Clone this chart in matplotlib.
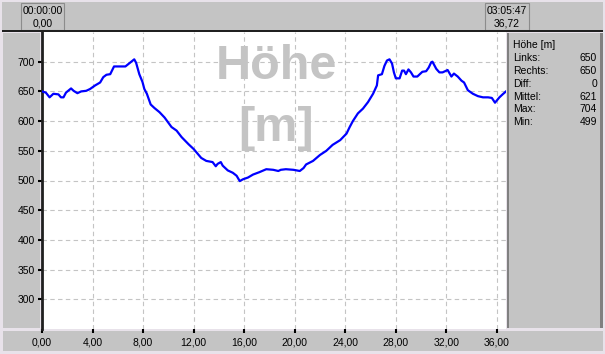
import matplotlib
matplotlib.use("Agg")
import matplotlib.pyplot as plt
from matplotlib.patches import Rectangle
from matplotlib.ticker import FuncFormatter

plt.rcParams['font.family'] = ['Liberation Sans', 'DejaVu Sans']

# track profile
dist_km = [0.0, 0.3, 0.6, 0.9, 1.3, 1.5, 1.7, 1.9, 2.3, 2.5, 2.8, 3.1, 3.5, 3.8,
           4.2, 4.6, 4.85, 5.1, 5.4, 5.7, 6.2, 6.6, 6.95, 7.3, 7.45, 7.7, 7.95,
           8.1, 8.3, 8.6, 8.9, 9.3, 9.7, 10.25, 10.65, 11.05, 11.6, 12.0, 12.4,
           12.6, 13.0, 13.5, 13.75, 13.9, 14.15, 14.3, 14.7, 15.1, 15.4, 15.65,
           15.9, 16.3, 16.7, 17.2, 17.75, 18.3, 18.7, 18.9, 19.3, 19.9, 20.4,
           20.7, 20.9, 21.45, 22.0, 22.5, 23.0, 23.6, 24.1, 24.35, 24.6, 25.0,
           25.4, 25.8, 26.2, 26.5, 26.6, 26.9, 27.1, 27.3, 27.5, 27.7, 27.85,
           28.0, 28.3, 28.5, 28.65, 28.8, 29.0, 29.2, 29.4, 29.7, 30.1, 30.4,
           30.6, 30.8, 30.9, 31.2, 31.45, 31.7, 32.1, 32.4, 32.6, 32.9, 33.2,
           33.4, 33.7, 34.1, 34.5, 34.9, 35.3, 35.6, 35.85, 36.2, 36.45, 36.72]
hoehe_m = [650, 648, 640, 646, 645, 640, 640, 648, 655, 651, 647, 650, 651, 654,
           660, 665, 674, 678, 679, 692, 692, 692, 698, 704, 698, 679, 666,
           654, 646, 628, 622, 615, 606, 590, 584, 573, 561, 553, 543,
           538, 533, 531, 524, 528, 531, 525, 517, 513, 508, 499,
           502, 505, 510, 514, 519, 518, 516, 518, 519, 518, 516,
           521, 527, 533, 543, 550, 560, 568, 579, 590, 600, 613,
           621, 632, 646, 660, 677, 679, 693, 702, 704, 697, 682,
           672, 672, 685, 685, 679, 687, 682, 675, 675, 683, 684,
           690, 699, 700, 688, 682, 682, 686, 675, 680, 675, 668,
           665, 652, 646, 642, 640, 640, 639, 631, 640, 645, 650]

xticks = [0, 4, 8, 12, 16, 20, 24, 28, 32, 36]
yticks = [300, 350, 400, 450, 500, 550, 600, 650, 700]
stat_names = ["Links:", "Rechts:", "Diff:", "Mittel:", "Max:", "Min:"]
stat_vals = ["650", "650", "0", "621", "704", "499"]

W, H = 605, 354
grey = '#c4c4c4'
fig = plt.figure(figsize=(W / 100, H / 100), dpi=100, facecolor='#e8e2ea')

# background frame in pixel coords
bg = fig.add_axes([0, 0, 1, 1])
bg.set_xlim(0, W)
bg.set_ylim(H, 0)
bg.axis('off')

def box(x0, y0, x1, y1, fc=grey, ec='none', lw=0):
    bg.add_patch(Rectangle((x0, y0), x1 - x0, y1 - y0, facecolor=fc,
                           edgecolor=ec, linewidth=lw))

box(2, 2, 603, 30)                       # top bar
box(21, 3, 64, 30, ec='#8c8c8c', lw=0.8)
box(485, 3, 529, 30, ec='#8c8c8c', lw=0.8)
box(2, 30, 603, 32, fc='#202020')
box(3, 33, 40, 328)                      # left panel
box(3, 331, 603, 351)                    # bottom bar
box(507, 33, 603, 328)                   # right panel
box(507, 33, 509, 328, fc='#808080')
box(600, 33, 603, 328, fc='#808080')

fs = 7.5
bg.text(42.5, 11, "00:00:00", ha='center', va='center', fontsize=fs)
bg.text(42.5, 23, "0,00", ha='center', va='center', fontsize=fs)
bg.text(507, 11, "03:05:47", ha='center', va='center', fontsize=fs)
bg.text(507, 23, "36,72", ha='center', va='center', fontsize=fs)

bg.text(513, 45, "Höhe [m]", ha='left', va='center', fontsize=fs)
for i, (n, v) in enumerate(zip(stat_names, stat_vals)):
    yy = 57.8 + i * 12.9
    bg.text(513, yy, n, ha='left', va='center', fontsize=fs)
    bg.text(597, yy, v, ha='right', va='center', fontsize=fs)

# main plot
ax = fig.add_axes([42 / W, 1 - 329 / H, (506 - 42) / W, (329 - 32) / H])
ax.set_facecolor('white')
ax.set_xlim(0, 36.72)
ax.set_ylim(250, 750)
ax.set_xticks(xticks)
ax.set_yticks(yticks)
ax.xaxis.set_major_formatter(FuncFormatter(lambda v, p: f"{v:.2f}".replace('.', ',')))
ax.grid(True, color='#c4c4c4', linestyle=(0, (4, 3)), linewidth=0.8)
ax.tick_params(axis='both', direction='out', length=3, width=1.5,
               color='black', labelsize=fs)
ax.tick_params(axis='x', pad=3)
ax.tick_params(axis='y', pad=2)
for s in ['top', 'right', 'bottom']:
    ax.spines[s].set_visible(False)
ax.spines['left'].set_linewidth(2)
ax.spines['left'].set_color('#202020')

ax.text(0.505, 0.885, "Höhe", transform=ax.transAxes, ha='center', va='center',
        fontsize=35, fontweight='bold', color=grey, zorder=0)
ax.text(0.505, 0.675, "[m]", transform=ax.transAxes, ha='center', va='center',
        fontsize=35, fontweight='bold', color=grey, zorder=0)

ax.plot(dist_km, hoehe_m, color='#0000ff', linewidth=1.6, zorder=3)

fig.savefig("out.png", dpi=100, facecolor=fig.get_facecolor())
